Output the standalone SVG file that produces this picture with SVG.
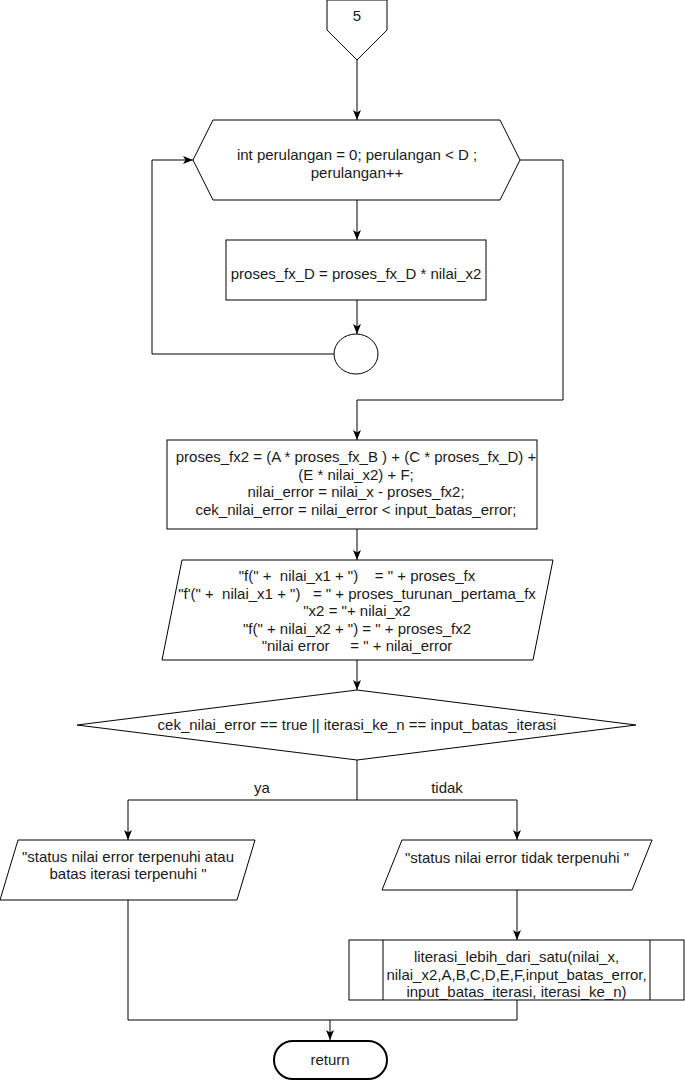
<svg xmlns="http://www.w3.org/2000/svg" width="685" height="1082" viewBox="0 0 685 1082">
<defs>
<style>
.s{fill:#fff;stroke:#000;stroke-width:1}
.t{font-family:"Liberation Sans",Arial,sans-serif;font-size:15px;fill:#1a1a1a;text-anchor:middle;white-space:pre}
.c{fill:none;stroke:#000;stroke-width:1}
</style>
<marker id="a" viewBox="0 0 10 8" refX="10" refY="4" markerWidth="10" markerHeight="8" markerUnits="userSpaceOnUse" orient="auto">
<path d="M0,0 L10,4 L0,8 L2.5,4 Z" fill="#000"/>
</marker>
</defs>
<rect width="685" height="1082" fill="#fff"/>
<g id="connectors">
<path class="c" d="M357,60 V120" marker-end="url(#a)"/>
<path class="c" d="M357,200 V240" marker-end="url(#a)"/>
<path class="c" d="M357,300 V334" marker-end="url(#a)"/>
<path class="c" d="M335,354 H152 V160 H193" marker-end="url(#a)"/>
<path class="c" d="M520,160 H563 V400 H357 V440" marker-end="url(#a)"/>
<path class="c" d="M357,529 V560" marker-end="url(#a)"/>
<path class="c" d="M357,660 V690" marker-end="url(#a)"/>
<path class="c" d="M357,760 V800 H128 V840" marker-end="url(#a)"/>
<path class="c" d="M357,800 H517 V840" marker-end="url(#a)"/>
<path class="c" d="M517,890 V940" marker-end="url(#a)"/>
<path class="c" d="M128,900 V1020 H517 V1000"/>
<path class="c" d="M330,1020 V1040" marker-end="url(#a)"/>
<text class="t" x="262" y="793">ya</text>
<text class="t" x="447" y="793">tidak</text>
</g>
<g id="offpage">
<polygon class="s" points="327,0 387,0 387,30 357,60 327,30"/>
<text class="t" x="357" y="21">5</text>
</g>
<g id="loop">
<polygon class="s" points="213,120 500,120 520,160 500,200 213,200 193,160"/>
<text class="t" x="357" y="160">int perulangan = 0; perulangan &lt; D ;</text>
<text class="t" x="357" y="177.5">perulangan++</text>
</g>
<g id="proses_fx_D">
<rect class="s" x="226" y="240" width="260" height="60"/>
<text class="t" x="356" y="279">proses_fx_D = proses_fx_D * nilai_x2</text>
</g>
<g id="loop_end">
<ellipse class="s" cx="356" cy="354" rx="22" ry="20"/>
</g>
<g id="proses_fx2">
<rect class="s" x="167" y="440" width="370" height="89"/>
<text class="t" x="356" y="462">proses_fx2 = (A * proses_fx_B ) + (C * proses_fx_D) +</text>
<text class="t" x="356" y="479.5">(E * nilai_x2) + F;</text>
<text class="t" x="356" y="497">nilai_error = nilai_x - proses_fx2;</text>
<text class="t" x="356" y="514.5">cek_nilai_error = nilai_error &lt; input_batas_error;</text>
</g>
<g id="output1">
<polygon class="s" points="182,560 553,560 533,660 162,660"/>
<text class="t" x="357" y="581">"f(" +  nilai_x1 + ")    = " + proses_fx</text>
<text class="t" x="357" y="598.5">"f'(" +  nilai_x1 + ")   = " + proses_turunan_pertama_fx</text>
<text class="t" x="357" y="616">"x2 = "+ nilai_x2</text>
<text class="t" x="357" y="633.5">"f(" + nilai_x2 + ") = " + proses_fx2</text>
<text class="t" x="357" y="651">"nilai error     = " + nilai_error</text>
</g>
<g id="decision">
<polygon class="s" points="357,690 636,725 357,760 77,725"/>
<text class="t" x="357" y="730">cek_nilai_error == true || iterasi_ke_n == input_batas_iterasi</text>
</g>
<g id="output_ya">
<polygon class="s" points="18,840 255,840 237,900 0,900"/>
<text class="t" x="128" y="862">"status nilai error terpenuhi atau</text>
<text class="t" x="128" y="878.5">batas iterasi terpenuhi "</text>
</g>
<g id="output_tidak">
<polygon class="s" points="402,840 652,840 632,890 382,890"/>
<text class="t" x="517" y="862.5">"status nilai error tidak terpenuhi "</text>
</g>
<g id="subroutine">
<rect class="s" x="349" y="940" width="335" height="60"/>
<line class="c" x1="383" y1="940" x2="383" y2="1000"/>
<line class="c" x1="650" y1="940" x2="650" y2="1000"/>
<text class="t" x="516.5" y="962">literasi_lebih_dari_satu(nilai_x,</text>
<text class="t" x="516.5" y="979.5">nilai_x2,A,B,C,D,E,F,input_batas_error,</text>
<text class="t" x="516.5" y="997">input_batas_iterasi, iterasi_ke_n)</text>
</g>
<g id="return">
<rect x="274" y="1041" width="113" height="38" rx="19" fill="#fff" stroke="#000" stroke-width="2"/>
<text class="t" x="330" y="1065">return</text>
</g>
</svg>
